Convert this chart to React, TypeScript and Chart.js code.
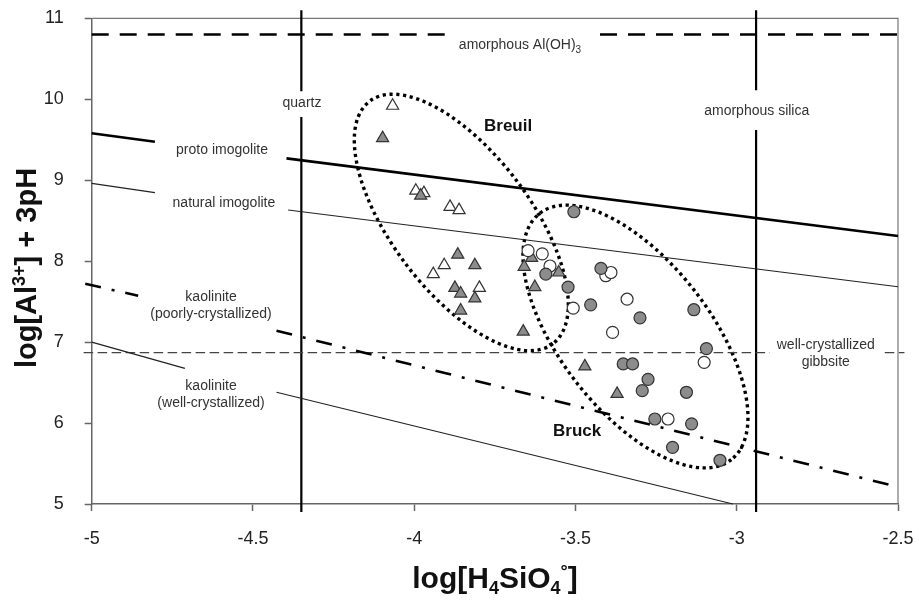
import React, { useEffect, useRef } from 'react';
import { Chart, registerables } from 'chart.js';

Chart.register(...registerables);

// ---- axis ticks ----
const xTicks = [-5, -4.5, -4, -3.5, -3, -2.5];
const yTicks = [5, 6, 7, 8, 9, 10, 11];

// ---- samples ----
// open triangles
const openTriX = [-4.067, -3.995, -3.97, -3.889, -3.861, -3.907, -3.941, -3.798];
const openTriY = [9.92, 8.87, 8.84, 8.67, 8.63, 7.95, 7.84, 7.67];
// grey triangles
const greyTriX = [-4.098, -3.98, -3.865, -3.812, -3.874, -3.856, -3.812, -3.856, -3.636, -3.659, -3.552, -3.626, -3.662, -3.471, -3.371];
const greyTriY = [9.52, 8.81, 8.08, 7.95, 7.67, 7.6, 7.54, 7.39, 8.04, 7.93, 7.86, 7.68, 7.13, 6.7, 6.36];
// open circles
const openCircX = [-3.647, -3.603, -3.579, -3.507, -3.406, -3.39, -3.34, -3.385, -3.101, -3.213];
const openCircY = [8.13, 8.09, 7.94, 7.42, 7.82, 7.86, 7.53, 7.12, 6.75, 6.05];
// grey circles
const greyCircX = [-3.505, -3.592, -3.523, -3.453, -3.421, -3.3, -3.133, -3.094, -3.352, -3.323, -3.275, -3.293, -3.156, -3.254, -3.14, -3.199, -3.052];
const greyCircY = [8.61, 7.84, 7.68, 7.46, 7.91, 7.3, 7.4, 6.92, 6.73, 6.73, 6.54, 6.4, 6.38, 6.05, 5.99, 5.7, 5.54];

// ---- stability lines (null = gap for label) ----
const protoX = [-5, -4.804, -4.6, -4.396, -2.5];
const protoY = [9.58, 9.476, null, 9.27, 8.31];
const naturalX = [-5, -4.804, -4.6, -4.391, -2.5];
const naturalY = [8.96, 8.846, null, 8.632, 7.684];
const kaoPoorX = [-5.02, -4.856, -4.64, -4.427, -2.5];
const kaoPoorY = [7.72, 7.573, null, 7.141, 5.21];
const kaoWellX = [-5, -4.711, -4.57, -4.427, -3.012];
const kaoWellY = [7.0, 6.676, null, 6.38, 5.0];
const alohX = [-5, -3.889, -3.65, -3.424, -2.48];
const alohY = [10.8, 10.8, null, 10.8, 10.8];
const gibbsiteX = [-5.025, -2.897, -2.72, -2.541, -2.48];
const gibbsiteY = [6.87, 6.87, null, 6.87, 6.87];
const quartzX = [-4.35, -4.35, -4.35, -4.35, -4.35];
const quartzY = [11.1, 10.1, null, 9.78, 4.9];
const silicaX = [-2.94, -2.94, -2.94, -2.94, -2.94];
const silicaY = [11.1, 10.11, null, 9.62, 4.9];

// ---- sample-group ellipses (centre, end of major axis, end of minor axis) ----
const breuilEllipse = { c: [-3.854, 8.478], a: [-3.57, 6.98], b: [-4.025, 7.959] };
const bruckEllipse = { c: [-3.314, 7.069], a: [-3.017, 5.548], b: [-3.497, 6.502] };

const FONT = "'Liberation Sans', Arial, Helvetica, sans-serif";

const zip = (xs: number[], ys: (number | null)[]) => xs.map((x, i) => ({ x, y: ys[i] }));

type Part = { t: string; size: number; bold?: boolean; dy?: number };

function drawRich(ctx: CanvasRenderingContext2D, parts: Part[], cx: number, cy: number) {
  let total = 0;
  const widths = parts.map((p) => {
    ctx.font = `${p.bold ? 'bold ' : ''}${p.size}px ${FONT}`;
    const w = ctx.measureText(p.t).width;
    total += w;
    return w;
  });
  let x = cx - total / 2;
  ctx.textAlign = 'left';
  ctx.textBaseline = 'alphabetic';
  parts.forEach((p, i) => {
    ctx.font = `${p.bold ? 'bold ' : ''}${p.size}px ${FONT}`;
    ctx.fillText(p.t, x, cy + (p.dy || 0));
    x += widths[i];
  });
}

const annotPlugin = {
  id: 'annot',
  beforeDatasetsDraw(chart: any) {
    const { ctx, chartArea: ca, scales } = chart;
    const xs = scales.x;
    const ys = scales.y;
    ctx.save();
    ctx.strokeStyle = '#777';
    ctx.lineWidth = 1.2;
    ctx.beginPath();
    ctx.moveTo(ca.left, ca.top);
    ctx.lineTo(ca.right, ca.top);
    ctx.lineTo(ca.right, ca.bottom);
    ctx.stroke();

    // ellipses
    const px = (p: number[]) => ({ x: xs.getPixelForValue(p[0]), y: ys.getPixelForValue(p[1]) });
    [breuilEllipse, bruckEllipse].forEach((e) => {
      const c = px(e.c);
      const a = px(e.a);
      const b = px(e.b);
      const ra = Math.hypot(a.x - c.x, a.y - c.y);
      const rb = Math.hypot(b.x - c.x, b.y - c.y);
      const rot = Math.atan2(a.y - c.y, a.x - c.x);
      ctx.beginPath();
      ctx.ellipse(c.x, c.y, ra, rb, rot, 0, Math.PI * 2);
      ctx.strokeStyle = '#000';
      ctx.lineWidth = 3.4;
      ctx.setLineDash([3.2, 3.6]);
      ctx.stroke();
    });
    ctx.restore();
  },
  afterDatasetsDraw(chart: any) {
    const { ctx, scales } = chart;
    const xs = scales.x;
    const ys = scales.y;
    const X = (v: number) => xs.getPixelForValue(v);
    const Y = (v: number) => ys.getPixelForValue(v);
    ctx.save();
    const label = (t: string, x: number, y: number, size = 14, bold = false, color = '#333') => {
      ctx.font = `${bold ? 'bold ' : ''}${size}px ${FONT}`;
      ctx.fillStyle = color;
      ctx.textAlign = 'center';
      ctx.textBaseline = 'middle';
      ctx.fillText(t, X(x), Y(y));
    };
    ctx.fillStyle = '#333';
    drawRich(
      ctx,
      [
        { t: 'amorphous Al(OH)', size: 14 },
        { t: '3', size: 10, dy: 4 },
      ],
      X(-3.672),
      Y(10.683) + 5
    );
    label('quartz', -4.348, 9.954);
    label('amorphous silica', -2.938, 9.855);
    label('proto imogolite', -4.596, 9.373);
    label('natural imogolite', -4.59, 8.722);
    label('kaolinite', -4.63, 7.561);
    label('(poorly-crystallized)', -4.63, 7.343);
    label('kaolinite', -4.63, 6.458);
    label('(well-crystallized)', -4.63, 6.244);
    label('well-crystallized', -2.724, 6.964);
    label('gibbsite', -2.724, 6.758);
    label('Breuil', -3.709, 9.661, 17, true, '#111');
    label('Bruck', -3.495, 5.893, 17, true, '#111');

    // axis titles
    ctx.fillStyle = '#111';
    drawRich(
      ctx,
      [
        { t: 'log[H', size: 30, bold: true },
        { t: '4', size: 18, bold: true, dy: 6 },
        { t: 'SiO', size: 30, bold: true },
        { t: '4', size: 18, bold: true, dy: 6 },
        { t: '°', size: 18, bold: true, dy: -11 },
        { t: ']', size: 30, bold: true },
      ],
      495,
      588
    );
    ctx.save();
    ctx.translate(36, 268);
    ctx.rotate(-Math.PI / 2);
    drawRich(
      ctx,
      [
        { t: 'log[Al', size: 29, bold: true },
        { t: '3+', size: 18, bold: true, dy: -11 },
        { t: '] + 3pH', size: 29, bold: true },
      ],
      0,
      0
    );
    ctx.restore();
    ctx.restore();
  },
};

export default function App() {
  const ref = useRef<HTMLCanvasElement | null>(null);
  useEffect(() => {
    if (!ref.current) return;
    const lineDs = (xs: number[], ys: (number | null)[], w: number, dash: number[], color = '#000') => ({
      type: 'scatter',
      data: zip(xs, ys),
      showLine: true,
      spanGaps: false,
      borderColor: color,
      borderWidth: w,
      borderDash: dash,
      pointRadius: 0,
      pointHoverRadius: 0,
      fill: false,
      tension: 0,
      clip: false,
      order: 2,
    });
    const ptDs = (xs: number[], ys: number[], style: string, bg: string, r: number) => ({
      type: 'scatter',
      data: zip(xs, ys),
      pointStyle: style,
      pointRadius: r,
      pointBackgroundColor: bg,
      pointBorderColor: '#333',
      pointBorderWidth: 1.2,
      showLine: false,
      clip: false,
      order: 1,
    });
    const chart = new Chart(ref.current, {
      type: 'scatter',
      data: {
        datasets: [
          ptDs(greyCircX, greyCircY, 'circle', '#8c8c8c', 6),
          ptDs(openCircX, openCircY, 'circle', '#ffffff', 6),
          ptDs(greyTriX, greyTriY, 'triangle', '#8c8c8c', 7),
          ptDs(openTriX, openTriY, 'triangle', '#ffffff', 7),
          lineDs(protoX, protoY, 2.6, []),
          lineDs(naturalX, naturalY, 1.2, [], '#222'),
          lineDs(kaoPoorX, kaoPoorY, 2.6, [16, 11, 3, 11]),
          lineDs(kaoWellX, kaoWellY, 1.2, [], '#222'),
          lineDs(alohX, alohY, 2.4, [17, 11]),
          lineDs(gibbsiteX, gibbsiteY, 1.3, [9.5, 4.5], '#444'),
          lineDs(quartzX, quartzY, 2.2, []),
          lineDs(silicaX, silicaY, 2.2, []),
        ] as any,
      },
      options: {
        animation: false,
        responsive: false,
        events: [],
        layout: { padding: { top: 18.3, right: 21, left: 0, bottom: 0 } },
        plugins: { legend: { display: false }, tooltip: { enabled: false } },
        scales: {
          x: {
            type: 'linear',
            min: -5,
            max: -2.5,
            afterFit: (s: any) => {
              s.height = 97;
              s.paddingLeft = 0;
              s.paddingRight = 0;
              s.paddingTop = 0;
              s.paddingBottom = 0;
            },
            afterBuildTicks: (s: any) => {
              s.ticks = xTicks.map((v) => ({ value: v }));
            },
            ticks: {
              callback: (v: any) => String(v),
              font: { family: FONT, size: 18 },
              color: '#222',
              padding: 17,
              maxRotation: 0,
              autoSkip: false,
            },
            grid: { drawOnChartArea: false, drawTicks: true, tickLength: 7, tickColor: '#666', tickWidth: 1.5 },
            border: { display: true, color: '#666', width: 1.5 },
          },
          y: {
            type: 'linear',
            min: 5,
            max: 11,
            afterFit: (s: any) => {
              s.width = 91.7;
              s.paddingLeft = 0;
              s.paddingRight = 0;
              s.paddingTop = 0;
              s.paddingBottom = 0;
            },
            afterBuildTicks: (s: any) => {
              s.ticks = yTicks.map((v) => ({ value: v }));
            },
            ticks: {
              callback: (v: any) => String(v),
              font: { family: FONT, size: 18 },
              color: '#222',
              padding: 21,
              autoSkip: false,
            },
            grid: { drawOnChartArea: false, drawTicks: true, tickLength: 7, tickColor: '#666', tickWidth: 1.5 },
            border: { display: true, color: '#666', width: 1.5 },
          },
        },
      } as any,
      plugins: [annotPlugin as any],
    });
    return () => chart.destroy();
  }, []);
  return (
    <div style={{ position: 'absolute', left: 0, top: 0, width: 919, height: 601, background: '#fff' }}>
      <canvas ref={ref} width={919} height={601} style={{ display: 'block' }} />
    </div>
  );
}
